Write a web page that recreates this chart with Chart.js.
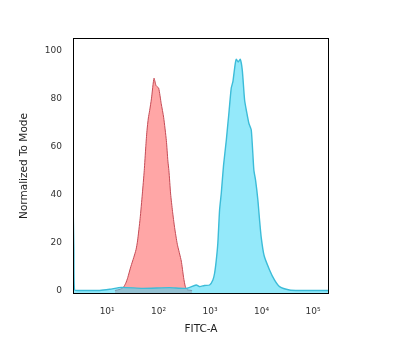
<!DOCTYPE html>
<html>
<head>
<meta charset="utf-8">
<script src="https://cdn.jsdelivr.net/npm/chart.js@4/dist/chart.umd.min.js"></script>
<style>
  html, body { margin: 0; padding: 0; background: #ffffff; }
  #c { display: block; }
</style>
</head>
<body>
<canvas id="c" width="400" height="351"></canvas>
<script>
// X positions are log10(FITC-A); Y is "Normalized To Mode"
const redLog = [1.15, 1.25, 1.31, 1.36, 1.40, 1.46, 1.515, 1.56, 1.59, 1.64, 1.683, 1.72, 1.75, 1.773, 1.80, 1.825, 1.86, 1.91, 1.95, 2.0, 2.05, 2.097, 2.15, 2.18, 2.20, 2.233, 2.27, 2.31, 2.363, 2.44, 2.485, 2.52, 2.56, 2.65];
const redVal = [0, 0.5, 1.2, 3, 5.4, 10, 13.7, 17, 20.7, 30, 40.3, 50, 60, 66.7, 72, 75.1, 80, 88.6, 85.5, 84.5, 78, 72.3, 62.6, 54, 50, 40.3, 33, 26.3, 19.3, 12.3, 5.4, 1.5, 0.3, 0];

const cyanLog = [0.336, 0.353, 0.365, 0.427, 0.596, 0.854, 1.05, 1.276, 1.69, 2.21, 2.54, 2.73, 2.80, 2.89, 2.99, 3.054, 3.087, 3.12, 3.15, 3.184, 3.217, 3.26, 3.315, 3.346, 3.365, 3.41, 3.443, 3.485, 3.509, 3.544, 3.586, 3.625, 3.67, 3.71, 3.753, 3.80, 3.85, 3.883, 3.928, 3.961, 3.994, 4.05, 4.155, 4.25, 4.35, 4.54, 4.73, 5.31];
const cyanVal = [38.6, 17, 0.2, 0, 0, 0, 0.5, 1.3, 0.9, 1.2, 0.9, 2.3, 1.6, 2.1, 2.3, 4.4, 7.2, 12.7, 19.7, 33.6, 40.6, 52, 62.8, 69.8, 74, 84.4, 87.2, 94.2, 96.5, 95.4, 96.5, 92, 79.5, 74.5, 69.8, 67, 50.3, 46.1, 37.8, 29.4, 22, 14.5, 8.6, 4.4, 1.6, 0.2, 0, 0];

const xTickValues = [1, 2, 3, 4, 5];
const xTickLabels = ['10\u00B9', '10\u00B2', '10\u00B3', '10\u2074', '10\u2075'];
const yTickValues = [0, 20, 40, 60, 80, 100];

const toPoints = (xs, ys) => xs.map((x, i) => ({ x: x, y: ys[i] }));

const boxPlugin = {
  id: 'box',
  afterDraw(chart) {
    const { ctx, chartArea: a } = chart;
    ctx.save();
    ctx.strokeStyle = '#000';
    ctx.lineWidth = 1;
    ctx.strokeRect(Math.round(a.left) + 0.5, Math.round(a.top) + 0.5,
                   Math.round(a.right - a.left) - 1, Math.round(a.bottom - a.top) - 1);
    ctx.restore();
  }
};

new Chart(document.getElementById('c'), {
  type: 'line',
  data: {
    datasets: [
      {
        label: 'Stained',
        data: toPoints(cyanLog, cyanVal),
        borderColor: '#3cbcd8',
        backgroundColor: 'rgba(60,215,245,0.55)',
        borderWidth: 1.4,
        pointRadius: 0,
        tension: 0.2,
        fill: 'start'
      },
      {
        label: 'Control',
        data: toPoints(redLog, redVal),
        borderColor: '#c44a55',
        backgroundColor: '#ffa6a6',
        borderWidth: 1,
        pointRadius: 0,
        tension: 0.2,
        fill: 'start'
      }
    ]
  },
  options: {
    responsive: false,
    animation: false,
    layout: { padding: { top: 38, right: 71, left: 0, bottom: 0 } },
    plugins: { legend: { display: false }, tooltip: { enabled: false } },
    scales: {
      x: {
        type: 'linear',
        min: 0.336,
        max: 5.31,
        grid: { display: false, drawTicks: false },
        border: { display: false },
        afterBuildTicks(scale) { scale.ticks = xTickValues.map(v => ({ value: v })); },
        afterFit(scale) { scale.height = 57; },
        ticks: {
          padding: 12,
          color: '#333',
          font: { family: 'DejaVu Sans', size: 9 },
          maxRotation: 0,
          callback(value) {
            const i = xTickValues.indexOf(value);
            return i >= 0 ? xTickLabels[i] : '';
          }
        },
        title: {
          display: true,
          text: 'FITC-A',
          color: '#222',
          font: { family: 'DejaVu Sans', size: 10.5 },
          padding: { top: 0, bottom: 15 }
        }
      },
      y: {
        type: 'linear',
        min: -1.46,
        max: 105.4,
        grid: { display: false, drawTicks: false },
        border: { display: false },
        afterBuildTicks(scale) { scale.ticks = yTickValues.map(v => ({ value: v })); },
        afterFit(scale) { scale.width = 73; },
        ticks: {
          padding: 11,
          color: '#333',
          font: { family: 'DejaVu Sans', size: 9 }
        },
        title: {
          display: true,
          text: 'Normalized To Mode',
          color: '#222',
          font: { family: 'DejaVu Sans', size: 10.5 },
          padding: { top: 17.5, bottom: 0 }
        }
      }
    }
  },
  plugins: [boxPlugin]
});
</script>
</body>
</html>
